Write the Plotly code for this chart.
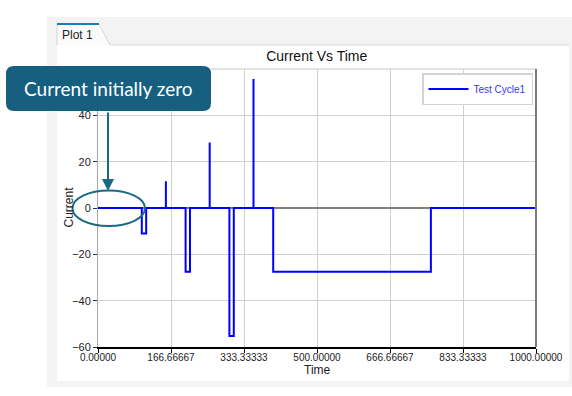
import plotly.graph_objects as go

# ---- data (step profile of current over time) ----
time_s = [0, 100, 100, 110, 110, 155, 155, 155, 200, 200, 210, 210, 255, 255, 255,
          300, 300, 310, 310, 355, 355, 355, 400, 400, 760, 760, 1000]
current_a = [0, 0, -11, -11, 0, 0, 11.5, 0, 0, -27.5, -27.5, 0, 0, 28.3, 0,
             0, -55.3, -55.3, 0, 0, 55.7, 0, 0, -27.5, -27.5, 0, 0]
x_ticks = [0, 1000/6, 2000/6, 500, 4000/6, 5000/6, 1000]
y_ticks = [-60, -40, -20, 0, 20, 40]
series_name = "Test Cycle1"

W, H = 572, 396
L, R, T, B = 98, 536, 69, 347


def px(x):
    return (x - L) / (R - L)


def py(y):
    return (B - y) / (B - T)


fig = go.Figure()
fig.add_trace(go.Scatter(x=time_s, y=current_a, mode="lines", name=series_name,
                         line=dict(color="#0000ff", width=2), hoverinfo="skip"))

shapes = []
# outer grey panel
shapes.append(dict(type="rect", xref="paper", yref="paper", layer="below",
                   x0=px(47), x1=px(575), y0=py(387), y1=py(17),
                   fillcolor="#f3f3f3", line=dict(width=0)))
# inner white panel
shapes.append(dict(type="rect", xref="paper", yref="paper", layer="below",
                   x0=px(57), x1=px(569), y0=py(381), y1=py(45),
                   fillcolor="#ffffff", line=dict(width=0)))
# separator line under the tab
shapes.append(dict(type="line", xref="paper", yref="paper", layer="below",
                   x0=px(110), x1=px(569), y0=py(45), y1=py(45),
                   line=dict(color="#dcdcdc", width=1)))
# tab
tab_path = "M {a},{b} L {a},{c} L {d},{c} L {e},{b}".format(
    a=px(57), b=py(45), c=py(24), d=px(99), e=px(110))
shapes.append(dict(type="path", xref="paper", yref="paper", layer="below",
                   path=tab_path, fillcolor="#fbfbfb", line=dict(color="#d6d6d6", width=1)))
shapes.append(dict(type="line", xref="paper", yref="paper", layer="below",
                   x0=px(57), x1=px(99), y0=py(24), y1=py(24),
                   line=dict(color="#1f7ab8", width=2)))
# top border and right border of plot area
shapes.append(dict(type="line", xref="paper", yref="paper", layer="below",
                   x0=0, x1=1, y0=1, y1=1, line=dict(color="#c8c8c8", width=1)))
shapes.append(dict(type="line", xref="paper", yref="paper",
                   x0=1, x1=1, y0=0, y1=1, line=dict(color="#7a7a7a", width=2)))

# callout rounded rectangle
cx0, cx1, cy0, cy1, r = 6, 211, 66, 111, 8
path = (f"M {px(cx0 + r)},{py(cy0)} L {px(cx1 - r)},{py(cy0)} "
        f"Q {px(cx1)},{py(cy0)} {px(cx1)},{py(cy0 + r)} "
        f"L {px(cx1)},{py(cy1 - r)} Q {px(cx1)},{py(cy1)} {px(cx1 - r)},{py(cy1)} "
        f"L {px(cx0 + r)},{py(cy1)} Q {px(cx0)},{py(cy1)} {px(cx0)},{py(cy1 - r)} "
        f"L {px(cx0)},{py(cy0 + r)} Q {px(cx0)},{py(cy0)} {px(cx0 + r)},{py(cy0)} Z")
shapes.append(dict(type="path", xref="paper", yref="paper", path=path,
                   fillcolor="#165f7f", line=dict(width=0)))
# ellipse highlighting the initial zero current
shapes.append(dict(type="circle", xref="paper", yref="paper",
                   x0=px(72.5), x1=px(145), y0=py(226), y1=py(190.5),
                   line=dict(color="#1d6985", width=2)))

annotations = [
    dict(xref="paper", yref="paper", x=px(108.5), y=py(66 + 22.5), text="Current initially zero",
         showarrow=False, font=dict(family="Lato", size=19, color="#ffffff"),
         xanchor="center", yanchor="middle"),
    dict(xref="paper", yref="paper", x=px(108), y=py(191), ax=0, ay=-80,
         axref="pixel", ayref="pixel", text="", showarrow=True, arrowhead=2,
         arrowsize=1.2, arrowwidth=2, arrowcolor="#1d6985"),
    dict(xref="paper", yref="paper", x=px(60), y=py(35), text="Plot 1", showarrow=False,
         font=dict(family="Liberation Sans, Arial", size=12, color="#222222"),
         xanchor="left", yanchor="middle"),
    # axis titles
    dict(xref="paper", yref="paper", x=px(317), y=py(370), text="Time", showarrow=False,
         font=dict(size=12, color="#222222"), xanchor="center", yanchor="middle"),
    dict(xref="paper", yref="paper", x=px(68.5), y=py(207), text="Current", showarrow=False,
         textangle=-90, font=dict(size=12, color="#222222"), xanchor="center", yanchor="middle"),
]

fig.update_layout(
    width=W, height=H, autosize=False,
    margin=dict(l=L, r=W - R, t=T, b=H - B, autoexpand=False),
    paper_bgcolor="#ffffff", plot_bgcolor="#ffffff",
    font=dict(family="Liberation Sans, Arial", color="#222222", size=10),
    title=dict(text="Current Vs Time", xref="container", x=316.7 / W, xanchor="center",
               yref="container", y=1 - 56 / H, yanchor="middle",
               font=dict(size=14, color="#111111")),
    showlegend=True,
    legend=dict(x=px(533), xanchor="right", y=py(73), yanchor="top",
                bgcolor="#ffffff", bordercolor="#d4d4d4", borderwidth=1.5,
                font=dict(size=10, color="#3535ff"), itemwidth=40,
                tracegroupgap=0),
    shapes=shapes, annotations=annotations,
    xaxis=dict(range=[0, 1000], tickvals=x_ticks, tickformat=".5f", automargin=False,
               showgrid=True, gridcolor="#d0d0d0", gridwidth=1,
               showline=True, linecolor="#000000", linewidth=1.5,
               ticks="outside", ticklen=4, tickcolor="#000000",
               ticklabelstandoff=-4,
               zeroline=False, tickfont=dict(size=10)),
    yaxis=dict(range=[-60, 60], tickvals=y_ticks, automargin=False,
               showgrid=True, gridcolor="#d0d0d0", gridwidth=1,
               showline=True, linecolor="#a8a8a8", linewidth=1,
               ticks="outside", ticklen=4, tickcolor="#333333",
               zeroline=True, zerolinecolor="#808080", zerolinewidth=1.5,
               tickfont=dict(size=11)),
)

fig.write_html("out.html", config={"displayModeBar": False},
               post_script="document.body.style.margin='0';document.body.style.padding='0';")
